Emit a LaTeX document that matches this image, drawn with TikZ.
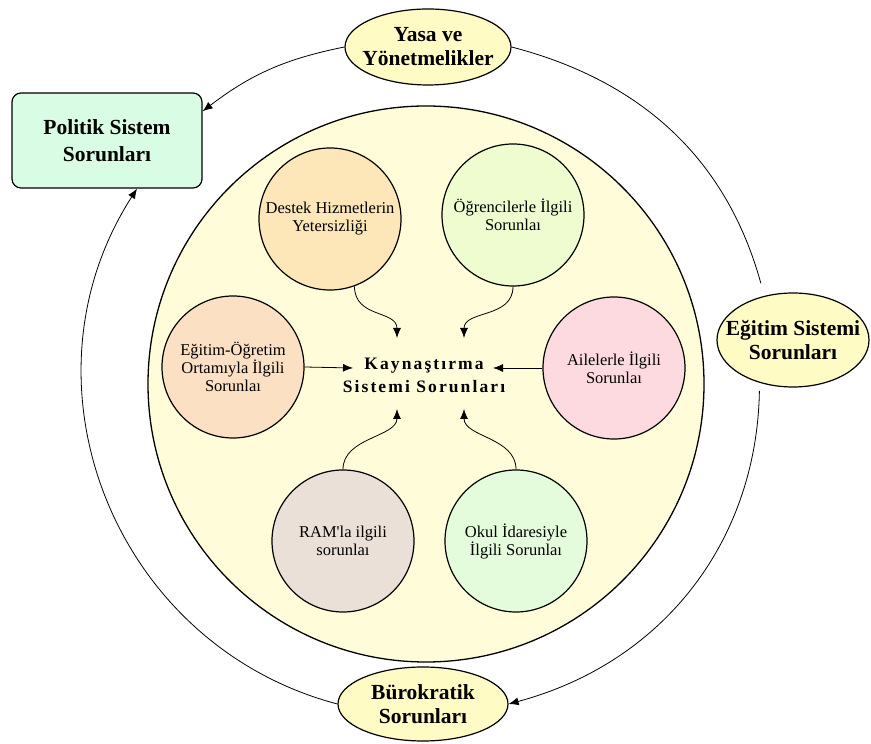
\documentclass[tikz,border=0pt]{standalone}
\usepackage{fontspec}
\setmainfont{Liberation Serif}
\usetikzlibrary{shapes.geometric,arrows.meta}

\definecolor{anasari}{RGB}{255,253,217}
\definecolor{dissari}{RGB}{255,251,196}
\definecolor{nane}{RGB}{216,252,228}
\definecolor{seftali}{RGB}{253,230,184}
\definecolor{limon}{RGB}{238,252,208}
\definecolor{kayisi}{RGB}{252,224,196}
\definecolor{pembe}{RGB}{253,218,224}
\definecolor{toprak}{RGB}{234,224,216}
\definecolor{acikyesil}{RGB}{228,252,220}

\begin{document}
\begin{tikzpicture}[x=1pt,y=1pt,
		konu/.style={draw, circle, minimum size=142pt, inner sep=0pt, line width=1.2pt, align=center, font=\fontsize{16.5}{18}\selectfont},
		dis/.style={draw, ellipse, fill=dissari, inner ysep=0pt, line width=1.2pt, align=center, font=\bfseries\fontsize{21.5}{24}\selectfont},
		ok/.style={-{Latex[length=10pt,width=8pt]}, line width=0.8pt},
		cizgi/.style={line width=0.8pt}]
		\useasboundingbox (0,0) rectangle (871,744);

		% dis halka
		\node[dis, inner xsep=-9pt, minimum width=166pt, minimum height=76pt] (yasa) at (428,697) {Yasa ve\\Yönetmelikler};
		\node[draw, rounded corners=9pt, fill=nane, minimum width=190pt, minimum height=95pt, line width=1.2pt, align=center, font=\bfseries\fontsize{21.5}{27}\selectfont] (politik) at (107,603.5) {Politik Sistem\\Sorunları};
		\node[dis, inner xsep=-17pt, minimum width=152pt, minimum height=94pt] (egitim) at (793,404) {Eğitim Sistemi\\Sorunları};
		\node[dis, inner xsep=0pt, minimum width=170pt, minimum height=74pt] (buro) at (423,40) {Bürokratik\\Sorunları};

		\draw[ok] (yasa.west) to[bend right=13] (politik.17);
		\draw[cizgi, shorten >=13pt] (yasa.east) to[bend left=30] (egitim.123);
		\draw[ok, shorten <=8pt] (egitim.232) to[bend left=37] (buro.east);
		\draw[ok] (buro.west) to[bend left=54, looseness=1.07] (politik.302);

		% ana daire
		\node[draw, circle, fill=anasari, minimum size=556pt, line width=1.3pt] (buyuk) at (426,360) {};

		\node[konu, fill=seftali] (destek) at (330,525) {Destek Hizmetlerin\\Yetersizliği};
		\node[konu, fill=limon] (ogrenci) at (513,529) {Öğrencilerle İlgili\\Sorunlaı};
		\node[konu, fill=kayisi] (ortam) at (233,377) {Eğitim-Öğretim\\Ortamıyla İlgili\\Sorunlaı};
		\node[konu, fill=pembe] (aile) at (614,376) {Ailelerle İlgili\\Sorunlaı};
		\node[konu, fill=toprak] (ram) at (343,203) {RAM\textquotesingle la ilgili\\sorunlaı};
		\node[konu, fill=acikyesil] (okul) at (516,203) {Okul İdaresiyle\\İlgili Sorunlaı};

		\node[align=center, font=\bfseries\fontsize{17.5}{23}\selectfont\addfontfeature{LetterSpace=12}] (kaynas) at (424,369) {Kaynaştırma\\Sistemi Sorunları};

		\coordinate (ucDestek) at (397,406);
		\coordinate (ucOgrenci) at (464,406);
		\coordinate (ucOrtam) at (353,376);
		\coordinate (ucAile) at (493,376);
		\coordinate (ucRam) at (397,335);
		\coordinate (ucOkul) at (464,335);

		\draw[ok] (destek.-70) .. controls +(0,-32) and +(0,28) .. (ucDestek);
		\draw[ok] (ogrenci.south) .. controls +(0,-32) and +(0,28) .. (ucOgrenci);
		\draw[ok] (ortam.east) -- (ucOrtam);
		\draw[ok] (aile.west) -- (ucAile);
		\draw[ok] (ram.north) .. controls +(0,32) and +(0,-28) .. (ucRam);
		\draw[ok] (okul.north) .. controls +(0,32) and +(0,-28) .. (ucOkul);

	\end{tikzpicture}
\end{document}
